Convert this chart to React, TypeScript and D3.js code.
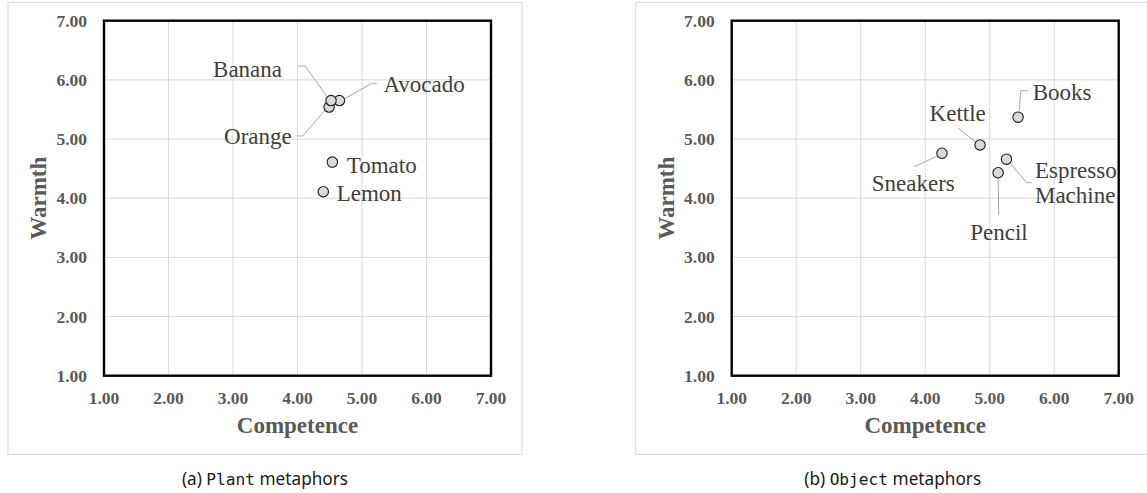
import React from 'react'
import * as d3 from 'd3'

// left panel: plant metaphors
const plantNames = ['Avocado', 'Orange', 'Banana', 'Tomato', 'Lemon']
const plantCompetence = [4.65, 4.49, 4.52, 4.54, 4.40]
const plantWarmth = [5.65, 5.54, 5.65, 4.61, 4.11]

// right panel: object metaphors
const objectNames = ['Books', 'Kettle', 'Sneakers', 'Espresso Machine', 'Pencil']
const objectCompetence = [5.44, 4.85, 4.26, 5.26, 5.13]
const objectWarmth = [5.37, 4.90, 4.76, 4.66, 4.43]

const axisTicks = [1, 2, 3, 4, 5, 6, 7]

// label placement (pixels relative to the point)
type Layout = { dx: number; dy: number; anchor: string; leader?: [number, number][] }
const labelLayout: Record<string, Layout> = {
  Banana: { dx: -49, dy: -32, anchor: 'end', leader: [[-32.7, -34.5], [-26, -34.5], [-4, -4]] },
  Avocado: { dx: 44, dy: -17, anchor: 'start', leader: [[37.3, -17.2], [32.3, -17.2], [5.6, -2.2]] },
  Orange: { dx: -37.4, dy: 29, anchor: 'end', leader: [[-32.4, 28.9], [-26.4, 28.9], [-2.4, 1.2]] },
  Tomato: { dx: 14.4, dy: 3, anchor: 'start' },
  Lemon: { dx: 13.4, dy: 1.6, anchor: 'start' },
  Books: { dx: 14.6, dy: -25.4, anchor: 'start', leader: [[1.2, -7], [2.6, -26.4], [10.2, -26.4]] },
  Kettle: { dx: -22.3, dy: -31.6, anchor: 'middle', leader: [[-21.7, -16.6], [-3, -2]] },
  Sneakers: { dx: -28.7, dy: 29.5, anchor: 'middle', leader: [[-27.7, 13.5], [-3, 2]] },
  'Espresso Machine': { dx: 28.5, dy: 10.9, anchor: 'start', leader: [[2, 2], [20.2, 23.6], [25.2, 23.6]] },
  Pencil: { dx: 0.9, dy: 59, anchor: 'middle', leader: [[0, 3], [0.7, 42.3]] },
}

const plotW = 387
const plotH = 355
const serif = '"Liberation Serif", "Times New Roman", serif'

interface PanelProps {
  id: string
  left: number
  top: number
  names: string[]
  xs: number[]
  ys: number[]
  letter: string
  word: string
}

function Panel({ id, left, top, names, xs, ys, letter, word }: PanelProps) {
  const x = d3.scaleLinear().domain([1, 7]).range([0, plotW])
  const y = d3.scaleLinear().domain([1, 7]).range([plotH, 0])
  const fmt = d3.format('.2f')
  const line = d3.line()

  return (
    <g>
      {/* chart area frame */}
      <rect x={left - 96} y={2.5} width={514} height={452} fill="#fff" stroke="#d9d9d9" strokeWidth={1} />
      <g transform={`translate(${left},${top})`}>
        <clipPath id={`clip-${id}`}>
          <rect x={0} y={0} width={plotW} height={plotH} />
        </clipPath>
        {axisTicks.slice(1, -1).map(t => (
          <line key={'gx' + t} x1={x(t)} x2={x(t)} y1={0} y2={plotH} stroke="#d9d9d9" strokeWidth={1} />
        ))}
        {axisTicks.slice(1, -1).map(t => (
          <line key={'gy' + t} x1={0} x2={plotW} y1={y(t)} y2={y(t)} stroke="#d9d9d9" strokeWidth={1} />
        ))}
        {axisTicks.map(t => (
          <text key={'ty' + t} x={-17} y={y(t)} dy="0.35em" textAnchor="end"
            fontFamily={serif} fontWeight="bold" fontSize={17.5} fill="#595959">{fmt(t)}</text>
        ))}
        {axisTicks.map(t => (
          <text key={'tx' + t} x={x(t)} y={plotH + 22} dy="0.35em" textAnchor="middle"
            fontFamily={serif} fontWeight="bold" fontSize={17.5} fill="#595959">{fmt(t)}</text>
        ))}
        <text x={plotW / 2} y={plotH + 49.5} dy="0.35em" textAnchor="middle"
          fontFamily={serif} fontWeight="bold" fontSize={23} fill="#595959">Competence</text>
        <text transform={`translate(${-66},${plotH / 2}) rotate(-90)`} dy="0.35em" textAnchor="middle"
          fontFamily={serif} fontWeight="bold" fontSize={23} fill="#595959">Warmth</text>

        <g clipPath={`url(#clip-${id})`}>
          {names.map((n, i) => {
            const L = labelLayout[n]
            if (!L || !L.leader) return null
            const px = x(xs[i])
            const py = y(ys[i])
            return (
              <path key={'ld' + n} d={line(L.leader.map(([a, b]) => [px + a, py + b]) as [number, number][]) || ''}
                fill="none" stroke="#a6a6a6" strokeWidth={1} />
            )
          })}
          {names.map((n, i) => (
            <circle key={'pt' + n} cx={x(xs[i])} cy={y(ys[i])} r={5.2}
              fill="#d9d9d9" stroke="#1a1a1a" strokeWidth={1.1} />
          ))}
          {names.map((n, i) => {
            const L = labelLayout[n]
            const px = x(xs[i])
            const py = y(ys[i])
            const parts = n.split(' ')
            return (
              <text key={'lb' + n} x={px + L.dx} y={py + L.dy} dy="0.35em" textAnchor={L.anchor}
                fontFamily={serif} fontSize={23} fill="#404040">
                {parts.map((p, k) => (
                  <tspan key={k} x={px + L.dx} dy={k === 0 ? '0.35em' : 25}>{p}</tspan>
                ))}
              </text>
            )
          })}
        </g>
        <rect x={0} y={0} width={plotW} height={plotH} fill="none" stroke="#000" strokeWidth={2.4} />
      </g>
      <text x={left - 96 + 257} y={484.5} textAnchor="middle" fontSize={17.2} fill="#1a1a1a"
        fontFamily='"Noto Sans", "DejaVu Sans", sans-serif'>
        {`(${letter}) `}
        <tspan fontFamily='"DejaVu Sans Mono", "Liberation Mono", monospace' fontSize={16.2}>{word}</tspan>
        {' metaphors'}
      </text>
    </g>
  )
}

export default function App() {
  return (
    <svg width={1147} height={493} style={{ position: 'absolute', left: 0, top: 0, background: '#fff' }}>
      <rect width={1147} height={493} fill="#fff" />
      <Panel id="plant" left={104} top={20.7} names={plantNames} xs={plantCompetence} ys={plantWarmth}
        letter="a" word="Plant" />
      <Panel id="object" left={731.7} top={20.7} names={objectNames} xs={objectCompetence} ys={objectWarmth}
        letter="b" word="Object" />
    </svg>
  )
}
